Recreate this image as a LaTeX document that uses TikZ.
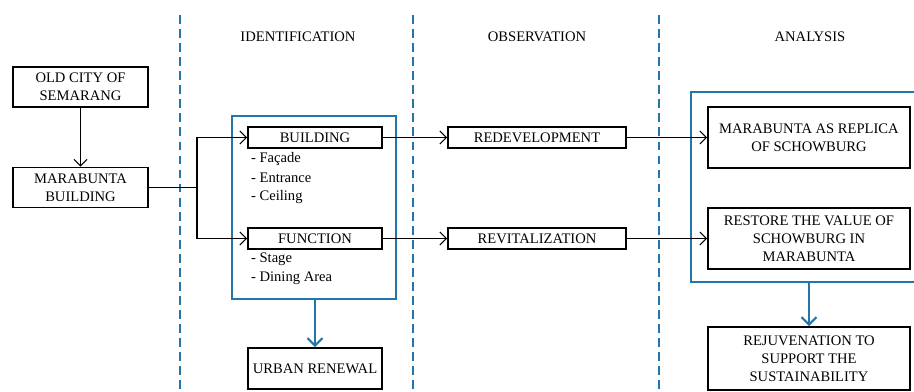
\documentclass[tikz,border=0pt]{standalone}
\usepackage{fontspec}
\setmainfont{Liberation Serif}
\usepackage{xcolor}
\usetikzlibrary{arrows.meta,positioning}

\definecolor{frameblue}{RGB}{35,118,170}

\begin{document}
\begin{tikzpicture}[
  x=0.02cm, y=-0.02cm,
  every node/.style={font=\fontsize{8.3}{10.3}\selectfont, inner sep=1pt},
  box/.style={draw, line width=1.1pt, align=center, minimum width=2.68cm,
              minimum height=0.42cm},
  item/.style={anchor=west},
  frame/.style={draw=frameblue, line width=1.2pt, minimum width=#1},
  divider/.style={frameblue, line width=1.1pt, dash pattern=on 5pt off 3pt},
  arr/.style={-{Straight Barb[length=1.3mm,width=2.6mm]}, line width=0.6pt},
  barr/.style={-{Straight Barb[length=1.5mm,width=3mm]}, frameblue, line width=1.2pt}
]
\useasboundingbox (0,0) rectangle (914,392);

% column dividers and headings
\foreach \xd in {180,413,659}
  \draw[divider] (\xd,15) -- (\xd,392);
\node (hid) at (298,37) {IDENTIFICATION};
\node (hobs) at (537,37) {OBSERVATION};
\node (hana) at (810,37) {ANALYSIS};

% blue frames
\node[frame=3.28cm, minimum height=3.66cm] (idbox) at (314,207.5) {};
\node[frame=4.58cm, minimum height=3.8cm] (anbox) at (805.5,187) {};

% left column
\node[box, minimum width=2.7cm, minimum height=0.8cm] (oldcity) at (80.5,87) {OLD CITY OF\\SEMARANG};
\node[box, minimum width=2.7cm, minimum height=0.8cm] (marabunta) at (80.5,187.5) {MARABUNTA\\BUILDING};

% identification
\node[box] (building) at (315,137.5) {BUILDING};
\node[item] (facade) at (249,159) {- Façade};
\node[item] (entrance) at (249,178) {- Entrance};
\node[item] (ceiling) at (249,197.5) {- Ceiling};
\node[box] (function) at (315,238.5) {FUNCTION};
\node[item] (stage) at (249,259) {- Stage};
\node[item] (dining) at (249,278) {- Dining Area};
\node[box, minimum height=0.82cm] (urban) at (315,368.5) {URBAN RENEWAL};

% observation
\node[box, minimum width=3.56cm] (redev) at (537,137.5) {REDEVELOPMENT};
\node[box, minimum width=3.56cm] (revital) at (537,238.5) {REVITALIZATION};

% analysis
\node[box, minimum width=4.04cm, minimum height=1.22cm] (replica) at (809,137.5) {MARABUNTA AS REPLICA\\OF SCHOWBURG};
\node[box, minimum width=4.04cm, minimum height=1.22cm] (restore) at (809,238.5) {RESTORE THE VALUE OF\\SCHOWBURG IN\\MARABUNTA};
\node[box, minimum width=4.04cm, minimum height=1.26cm] (rejuv) at (809,358.5) {REJUVENATION TO\\SUPPORT THE\\SUSTAINABILITY};

% connectors
\coordinate (split) at (197,187.5);
\draw[arr] (oldcity) -- (marabunta);
\draw[arr] (marabunta.east) -- (split) |- (building.west);
\draw[arr] (split) |- (function.west);
\draw[arr] (building) -- (redev);
\draw[arr] (function) -- (revital);
\draw[arr] (redev) -- (replica);
\draw[arr] (revital) -- (restore);
\draw[barr] (urban.north |- idbox.south) -- (urban.north);
\draw[barr] (rejuv.north |- anbox.south) -- (rejuv.north);
\end{tikzpicture}
\end{document}
